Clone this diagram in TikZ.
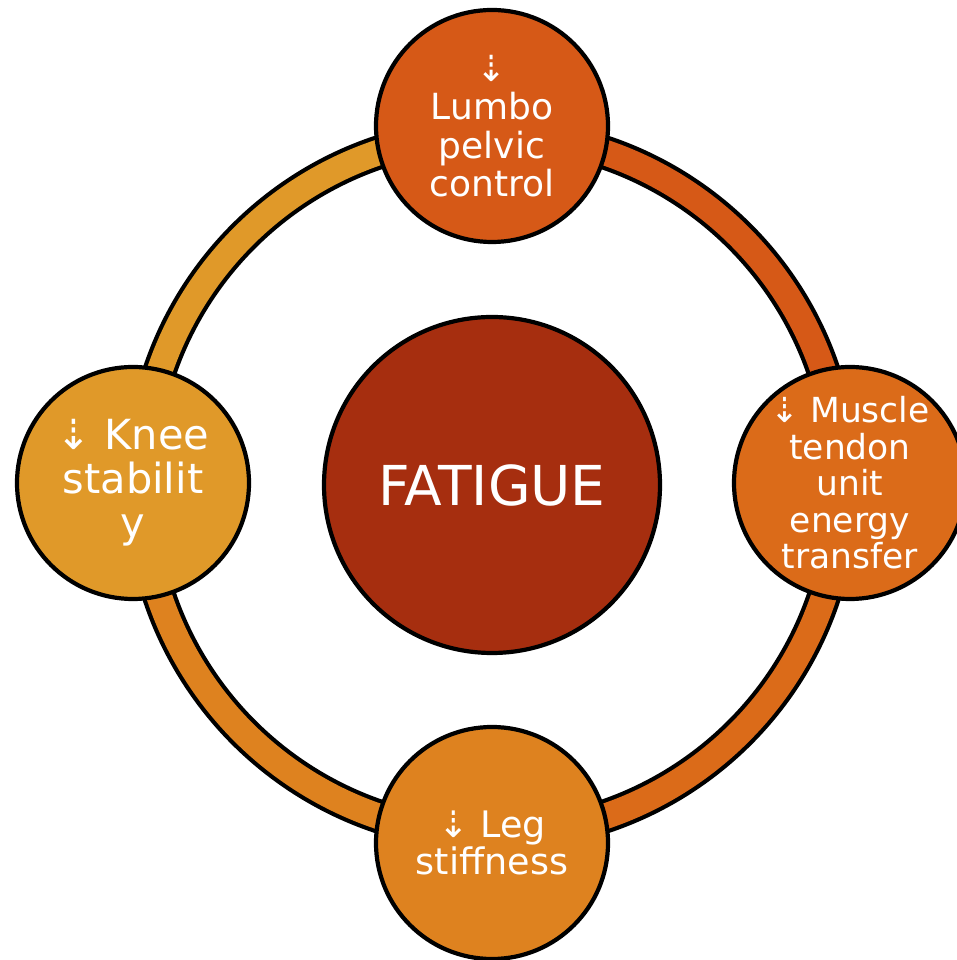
\documentclass[tikz,border=0pt]{standalone}
\usepackage{fontspec}
\setmainfont{DejaVu Sans}
\usetikzlibrary{backgrounds}

\begin{document}
\begin{tikzpicture}[x=1pt,y=1pt,
  bubble/.style={circle,draw=black,line width=4.2pt,minimum size=232pt,inner sep=0pt,fill=#1},
  hub/.style={circle,draw=black,line width=4.2pt,minimum size=336pt,fill=hubColor,text=white,
    font=\fontsize{55pt}{60pt}\selectfont},
  caption/.style 2 args={text=white,align=center,font=\fontsize{#1}{#2}\selectfont},
  band/.style={draw=black,line width=4.2pt,double=#1,double distance=25.6pt}]
\definecolor{hubColor}{rgb}{0.65,0.18,0.06}
\definecolor{lumboColor}{rgb}{0.84,0.35,0.09}
\definecolor{muscleColor}{rgb}{0.86,0.42,0.10}
\definecolor{legColor}{rgb}{0.87,0.51,0.12}
\definecolor{kneeColor}{rgb}{0.88,0.60,0.16}
\path[use as bounding box] (0,0) rectangle (957,960);

\node[hub] (fatigue) at (492,475) {FATIGUE};

\node[bubble=lumboColor,label={[caption={36pt}{38.5pt}]center:{⇣\\Lumbo\\pelvic\\control}}] (lumbo) at (492,834) {};
\node[bubble=muscleColor,label={[caption={34.5pt}{36.5pt}]center:{⇣ Muscle\\tendon\\unit\\energy\\transfer}}] (muscle) at (850,477) {};
\node[bubble=legColor,label={[caption={36.5pt}{37pt}]center:{⇣ Leg\\stiffness}}] (leg) at (492,117) {};
\node[bubble=kneeColor,label={[caption={41.5pt}{44pt}]center:{⇣ Knee\\stabilit\\y}}] (knee) at (133,477) {};

\begin{scope}[on background layer]
\draw[band=kneeColor] ([xshift=8pt,yshift=-1pt]knee.center) to[bend left=45] ([yshift=-8pt]lumbo.center);
\draw[band=lumboColor] ([yshift=-8pt]lumbo.center) to[bend left=45] ([xshift=-8pt,yshift=-1pt]muscle.center);
\draw[band=muscleColor] ([xshift=-8pt,yshift=-1pt]muscle.center) to[bend left=45] ([yshift=8pt]leg.center);
\draw[band=legColor] ([yshift=8pt]leg.center) to[bend left=45] ([xshift=8pt,yshift=-1pt]knee.center);
\end{scope}
\end{tikzpicture}
\end{document}
